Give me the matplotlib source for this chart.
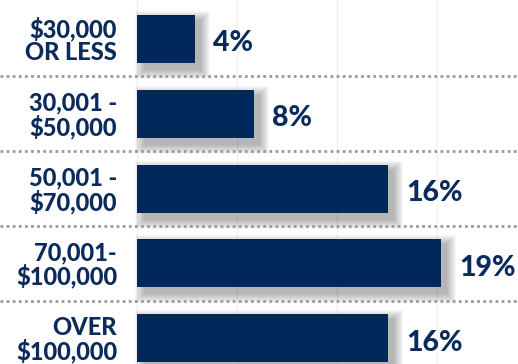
import matplotlib
matplotlib.use("Agg")
import matplotlib.pyplot as plt
from matplotlib.patches import Rectangle

categories = ["$30,000\nOR LESS", "30,001 -\n$50,000", "50,001 -\n$70,000", "70,001-\n$100,000", "OVER\n$100,000"]
values = [3.6, 7.3, 15.7, 19.0, 15.7]
value_labels = ["4%", "8%", "16%", "19%", "16%"]

NAVY = "#00285A"
TEXT = "#0B2B5C"
W, H, DPI = 518, 364, 100
px_per_unit = 16.0
x0_px = 137
row0_px = 39
row_px = 74.8

fig = plt.figure(figsize=(W / DPI, H / DPI), dpi=DPI)
ax = fig.add_axes([0, 0, 1, 1])
ax.set_xlim(-x0_px / px_per_unit, (W - x0_px) / px_per_unit)
ax.set_ylim((H - row0_px) / row_px, -row0_px / row_px)
ax.axis("off")

for gx in [0, 6.25, 12.5, 18.75]:
    ax.axvline(gx, color="#F0F0F0", lw=1, zorder=0)

bar_h = 0.64
ys = list(range(len(values)))

dx = 5 / px_per_unit
dy = 6 / row_px
for k in range(10, 0, -1):
    ex = k * 1.0 / px_per_unit
    ey = k * 1.0 / row_px
    for y, v in zip(ys, values):
        ax.add_patch(Rectangle((dx - ex + 0.2, y - bar_h / 2 + dy - ey), v + 2 * ex - 0.2,
                               bar_h + 2 * ey, facecolor="black", alpha=0.03,
                               edgecolor="none", zorder=1))

ax.barh(ys, values, height=bar_h, color=NAVY, zorder=3)

for y, v, lab in zip(ys, values, value_labels):
    ax.text(v + 1.15, y + 0.06, lab, ha="left", va="center", fontsize=20.5,
            fontweight=900, color=TEXT, family="Lato", zorder=4)

for y, cat in zip(ys, categories):
    ax.text(-1.25, y + 0.02, cat, ha="right", va="center", fontsize=17,
            fontweight=900, color=TEXT, family="Lato", linespacing=1.0, zorder=4)

for y in ys[:-1]:
    ax.axhline(y + 0.5, color="#9A9A9A", lw=2, ls=(0, (1, 1.2)), zorder=2)

fig.savefig("out.png", dpi=DPI)
